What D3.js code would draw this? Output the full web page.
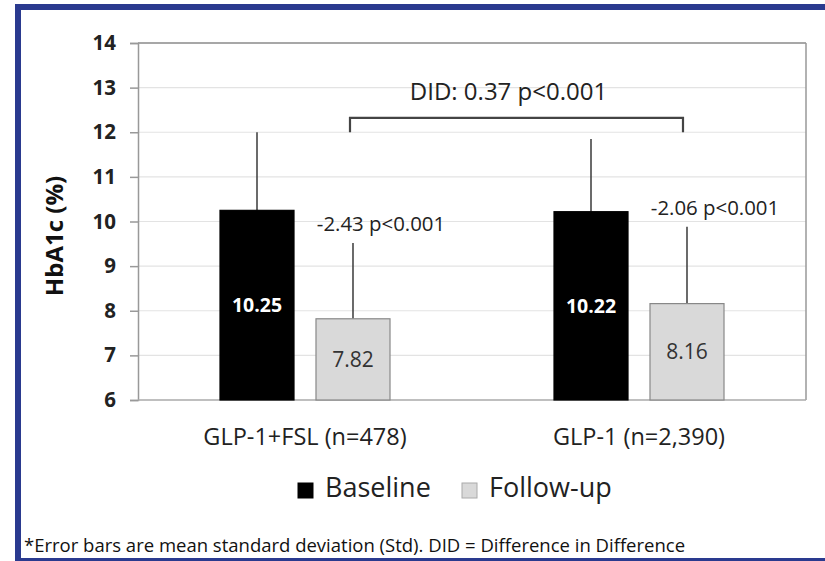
<!DOCTYPE html>
<html>
<head>
<meta charset="utf-8">
<script src="https://cdn.jsdelivr.net/npm/d3@7"></script>
<style>
  html, body { margin: 0; padding: 0; background: #fff; }
  svg { display: block; font-family: "Open Sans", sans-serif; }
</style>
</head>
<body>
<svg id="chart" width="825" height="561"></svg>
<script>
// ---- data ----
const categories = ["GLP-1+FSL (n=478)", "GLP-1 (n=2,390)"];
const seriesNames = ["Baseline", "Follow-up"];
const baseline = [10.25, 10.22];
const followup = [7.82, 8.16];
const baselineSD = [1.75, 1.63];
const followupSD = [1.70, 1.72];
const changeLabels = ["-2.43 p<0.001", "-2.06 p<0.001"];
const didLabel = "DID: 0.37 p<0.001";
const yTicks = [6, 7, 8, 9, 10, 11, 12, 13, 14];
const footnote = "*Error bars are mean standard deviation (Std). DID = Difference in Difference";

(function () {
const svg = d3.select("#chart");
const W = 825, H = 561;
const blue = "#2a3a8f";

// frame
svg.append("rect").attr("x", 15).attr("y", 4).attr("width", W - 15).attr("height", 6).attr("fill", blue);
svg.append("rect").attr("x", 15).attr("y", 4).attr("width", 6).attr("height", H - 4).attr("fill", blue);
svg.append("rect").attr("x", 15).attr("y", 558).attr("width", W - 15).attr("height", 3).attr("fill", blue);

const pLeft = 138, pRight = 806, pTop = 43, pBottom = 400;

const y = d3.scaleLinear().domain([6, 14]).range([pBottom, pTop]);
const x0 = d3.scaleBand().domain(categories).range([pLeft, pRight]).paddingInner(0.491).paddingOuter(0.2455);
const x1 = d3.scaleBand().domain(seriesNames).range([0, x0.bandwidth()]).paddingInner(0.229).paddingOuter(0);

// gridlines
svg.append("g").selectAll("line").data(yTicks.filter(t => t > 6 && t < 14)).join("line")
  .attr("x1", pLeft).attr("x2", pRight)
  .attr("y1", d => y(d)).attr("y2", d => y(d))
  .attr("stroke", "#e3e3e3").attr("stroke-width", 1.2);

// plot frame (top/right)
svg.append("line").attr("x1", pLeft).attr("x2", pRight).attr("y1", y(14)).attr("y2", y(14)).attr("stroke", "#8a8a8a").attr("stroke-width", 1.5);
svg.append("line").attr("x1", pRight).attr("x2", pRight).attr("y1", y(14)).attr("y2", y(6)).attr("stroke", "#999").attr("stroke-width", 1.5);

// y axis
const yAxis = svg.append("g").attr("transform", `translate(${pLeft},0)`)
  .call(d3.axisLeft(y).tickValues(yTicks).tickSize(8).tickPadding(14).tickFormat(d3.format("d")));
yAxis.select(".domain").attr("stroke", "#999").attr("stroke-width", 1.5);
yAxis.selectAll(".tick line").attr("stroke", "#999").attr("stroke-width", 1.5);
yAxis.selectAll(".tick text").attr("font-family", "Open Sans, sans-serif").attr("font-size", 20.5).attr("font-weight", "bold").attr("fill", "#222");

// x axis line
svg.append("line").attr("x1", pLeft).attr("x2", pRight).attr("y1", pBottom).attr("y2", pBottom).attr("stroke", "#aaa").attr("stroke-width", 1.5);

// category labels
svg.append("g").selectAll("text").data(categories).join("text")
  .attr("x", d => x0(d) + x0.bandwidth() / 2).attr("y", 445)
  .attr("text-anchor", "middle").attr("font-size", 23.5).attr("fill", "#222")
  .text(d => d);

// y axis title
svg.append("text").attr("transform", "translate(63,236) rotate(-90)")
  .attr("text-anchor", "middle").attr("font-size", 24).attr("font-weight", "bold").attr("fill", "#111")
  .text("HbA1c (%)");

const rows = categories.map((c, i) => [
  { cat: c, s: seriesNames[0], v: baseline[i], sd: baselineSD[i] },
  { cat: c, s: seriesNames[1], v: followup[i], sd: followupSD[i] }
]).flat();

const bx = d => x0(d.cat) + x1(d.s);

// error bars (upper only)
svg.append("g").selectAll("line").data(rows).join("line")
  .attr("x1", d => bx(d) + x1.bandwidth() / 2).attr("x2", d => bx(d) + x1.bandwidth() / 2)
  .attr("y1", d => y(d.v)).attr("y2", d => y(d.v + d.sd))
  .attr("stroke", "#3a3a3a").attr("stroke-width", 1.5);

// bars
svg.append("g").selectAll("rect").data(rows).join("rect")
  .attr("x", bx).attr("width", x1.bandwidth())
  .attr("y", d => y(d.v)).attr("height", d => y(6) - y(d.v))
  .attr("fill", d => d.s === "Baseline" ? "#000" : "#d9d9d9")
  .attr("stroke", d => d.s === "Baseline" ? "#000" : "#888")
  .attr("stroke-width", 1.2);

// bar value labels
svg.append("g").selectAll("text").data(rows).join("text")
  .attr("x", d => bx(d) + x1.bandwidth() / 2)
  .attr("y", d => (y(d.v) + y(6)) / 2)
  .attr("dy", "0.35em").attr("text-anchor", "middle")
  .attr("font-size", d => d.s === "Baseline" ? 19.5 : 21)
  .attr("font-weight", d => d.s === "Baseline" ? "bold" : "normal")
  .attr("fill", d => d.s === "Baseline" ? "#fff" : "#333")
  .text(d => d.v.toFixed(2));

// change annotations
svg.append("g").selectAll("text").data(categories).join("text")
  .attr("x", (d, i) => x0(d) + x1("Follow-up") + x1.bandwidth() / 2 + 28)
  .attr("y", (d, i) => y(followup[i] + followupSD[i]) - 12)
  .attr("text-anchor", "middle").attr("font-size", 20.4).attr("fill", "#222")
  .text((d, i) => changeLabels[i]);

// DID bracket
const bL = x0(categories[0]) + x1("Follow-up") + x1.bandwidth() / 2 - 3;
const bR = x0(categories[1]) + x1("Follow-up") + x1.bandwidth() / 2 - 4;
const yb = y(12.32), yt = y(12.0);
svg.append("path")
  .attr("d", `M${bL},${yt}V${yb}H${bR}V${yt}`)
  .attr("fill", "none").attr("stroke", "#444").attr("stroke-width", 2.2);
svg.append("text").attr("x", (bL + bR) / 2 - 8).attr("y", y(12.32) - 18)
  .attr("text-anchor", "middle").attr("font-size", 24).attr("fill", "#222")
  .text(didLabel);

// legend
const legX = [298, 462];
const legend = svg.append("g").selectAll("g").data(seriesNames).join("g")
  .attr("transform", (d, i) => `translate(${legX[i]},483)`);
legend.append("rect").attr("width", 15).attr("height", 15)
  .attr("fill", d => d === "Baseline" ? "#000" : "#d9d9d9")
  .attr("stroke", d => d === "Baseline" ? "#000" : "#aaa");
legend.append("text").attr("x", 27).attr("y", 14)
  .attr("font-size", 27).attr("fill", "#222").text(d => d);

// footnote
svg.append("text").attr("x", 24).attr("y", 552).attr("font-size", 18.5).attr("fill", "#111").text(footnote);
})();
</script>
</body>
</html>
